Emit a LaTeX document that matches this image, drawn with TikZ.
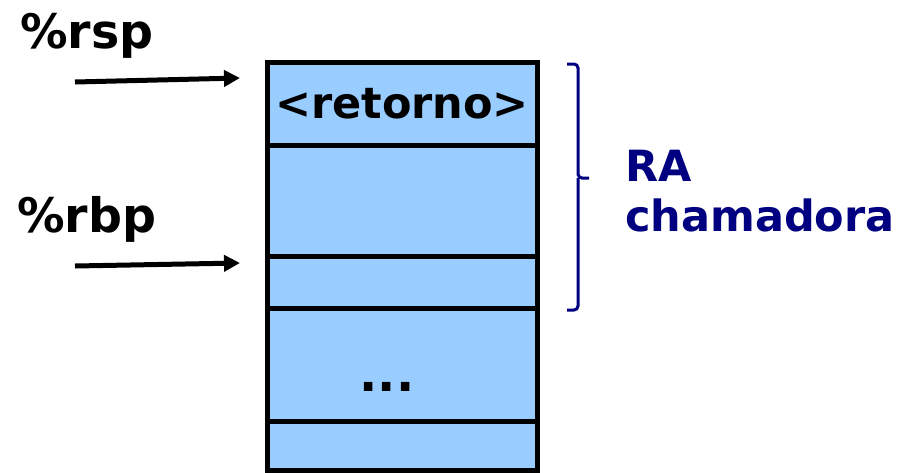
\documentclass[tikz,border=0pt]{standalone}
\usepackage{fontspec}
\setmainfont{DejaVu Sans}
\usetikzlibrary{positioning, arrows.meta}
\definecolor{cellBlue}{RGB}{153,204,255}
\definecolor{raNavy}{RGB}{0,0,128}
\tikzset{
  cell/.style = {rectangle, draw=black, fill=cellBlue, line width=5pt, minimum width=270pt, inner sep=0pt, outer sep=0pt, font=\fontsize{43}{46}\selectfont\bfseries},
  reglabel/.style = {anchor=base west, inner sep=0pt, font=\fontsize{47.5}{50}\selectfont\bfseries},
  ptr/.style = {line width=5pt, -{Triangle[length=16pt,width=16pt]}},
  brace/.style = {draw=raNavy, line width=3pt, rounded corners=4pt}
}

\begin{document}
\begin{tikzpicture}[x=1pt, y=-1pt]
\useasboundingbox (0,0) rectangle (910,472);

% the stack, cell by cell
\node (ret) [cell, minimum height=83pt] at (402,103.5) {<retorno>};
\node (saved) [cell, minimum height=111pt, below=0pt of ret] {};
\node (base) [cell, minimum height=52pt, below=0pt of saved] {};
\node (dots) [cell, minimum height=113pt, text height=53pt, text depth=0pt, below=0pt of base] {\fontsize{48}{50}\selectfont\hspace*{-30pt}...};
\node (last) [cell, minimum height=49pt, below=0pt of dots] {};

% registers
\node (rsp) [reglabel] at (20,48) {\%rsp};
\node (rbp) [reglabel] at (17,232) {\%rbp};
\coordinate (rspTail) at (75,82);
\coordinate (rspHead) at (240,78);
\coordinate (rbpTail) at (75,266);
\coordinate (rbpHead) at (240,263);
\draw [ptr] (rspTail) -- (rspHead);
\draw [ptr] (rbpTail) -- (rbpHead);

% activation record of the caller
\coordinate (braceTop) at (567,64);
\coordinate (braceTip) at (589,178);
\coordinate (braceBot) at (567,310);
\draw [brace] (braceTop) -| (braceTip -| 578,0) |- (braceTip)
  (braceTip -| 578,0) |- (braceBot);
\node (ra) [anchor=north west, inner sep=0pt, align=left, text=raNavy, font=\fontsize{43}{50}\selectfont\bfseries] at (625,150) {RA\\chamadora};

\end{tikzpicture}
\end{document}
